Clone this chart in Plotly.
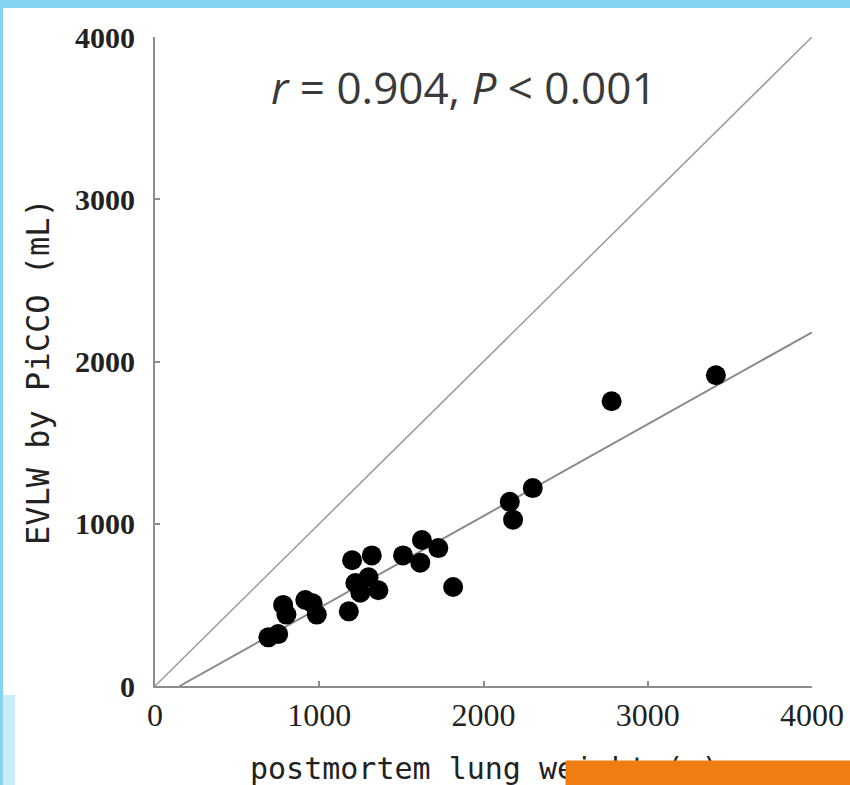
import plotly.graph_objects as go

# lung weight (g) vs EVLW by PiCCO (mL)
lung_weight = [690, 750, 780, 800, 915, 960, 985, 1180, 1200, 1320, 1220, 1250,
               1360, 1300, 1510, 1625, 1615, 1725, 1815, 2160, 2180, 2300, 2780, 3415]
evlw = [300, 320, 500, 440, 530, 510, 440, 460, 775, 805, 635, 575,
        590, 670, 805, 900, 760, 850, 610, 1135, 1025, 1220, 1755, 1915]

identity_x = [0, 4000]
identity_y = [0, 4000]
reg_x = [150, 4000]
reg_y = [0, 2180]

tick_vals = [0, 1000, 2000, 3000, 4000]
tick_text = ["0", "1000", "2000", "3000", "4000"]

fig = go.Figure()

fig.add_trace(go.Scatter(
    x=identity_x, y=identity_y, mode="lines",
    line=dict(color="#9a9a9a", width=1.5), showlegend=False, hoverinfo="skip"
))
fig.add_trace(go.Scatter(
    x=reg_x, y=reg_y, mode="lines",
    line=dict(color="#8a8a8a", width=2), showlegend=False, hoverinfo="skip"
))
fig.add_trace(go.Scatter(
    x=lung_weight, y=evlw, mode="markers",
    marker=dict(color="black", size=20), showlegend=False
))

axis_style = dict(
    range=[0, 4000], tickvals=tick_vals, ticktext=tick_text,
    showgrid=False, zeroline=False, showline=True,
    linecolor="#8c8c8c", linewidth=2,
    ticks="inside", ticklen=5, tickcolor="#8c8c8c", tickwidth=1.5,
)

fig.update_xaxes(**axis_style, ticklabelstandoff=0, ticklabeloverflow="allow",
                 automargin=False,
                 tickfont=dict(family="Liberation Serif", size=32, color="#222"))
fig.update_yaxes(**axis_style, ticklabelstandoff=12, automargin=False,
                 tickfont=dict(family="Liberation Serif", size=30, color="#222",
                               weight="bold"))

# blue frame bits round the screenshot
fig.add_shape(type="rect", xref="paper", yref="paper",
              x0=-0.3, x1=1.2, y0=1 + 29 / 649, y1=1.1,
              fillcolor="#84d4f0", line_width=0, layer="above")
fig.add_shape(type="rect", xref="paper", yref="paper",
              x0=-0.3, x1=-152 / 657, y0=-0.2, y1=1.1,
              fillcolor="#84d4f0", line_width=0, layer="above")
fig.add_shape(type="rect", xref="paper", yref="paper",
              x0=-0.3, x1=-140 / 657, y0=-0.2, y1=1 - (695 - 37) / 649,
              fillcolor="rgba(132,212,240,0.45)", line_width=0, layer="above")

fig.add_annotation(
    text="<i>r</i> = 0.904, <i>P</i> &lt; 0.001",
    xref="paper", yref="paper", x=(464 - 155) / 657, y=1 - (87 - 37) / 649,
    xanchor="center", yanchor="middle",
    showarrow=False, font=dict(family="Open Sans", size=44, color="#3a3a3a")
)
fig.add_annotation(
    text="EVLW by PiCCO (mL)", textangle=-90,
    xref="paper", yref="paper", x=(38 - 155) / 657, y=1 - (372 - 37) / 649,
    xanchor="center", yanchor="middle",
    showarrow=False, font=dict(family="DejaVu Sans Mono", size=32, color="#222")
)
fig.add_annotation(
    text="postmortem lung weight (g)",
    xref="paper", yref="paper", x=(248 - 155) / 657, y=1 - (768 - 37) / 649,
    xanchor="left", yanchor="middle", showarrow=False,
    font=dict(family="DejaVu Sans Mono", size=30, color="#222")
)
# orange bar covering part of the title
fig.add_annotation(
    text=" ", xref="paper", yref="paper",
    x=(565 - 155) / 657, y=1 - (760 - 37) / 649,
    xanchor="left", yanchor="top", width=290, height=24,
    bgcolor="#f07d14", borderpad=0, showarrow=False
)

fig.update_layout(
    width=850, height=785,
    margin=dict(l=155, r=38, t=37, b=99, autoexpand=False),
    paper_bgcolor="white", plot_bgcolor="white",
)

fig.write_html("out.html", config={"displayModeBar": False},
               post_script="document.body.style.margin='0';")
